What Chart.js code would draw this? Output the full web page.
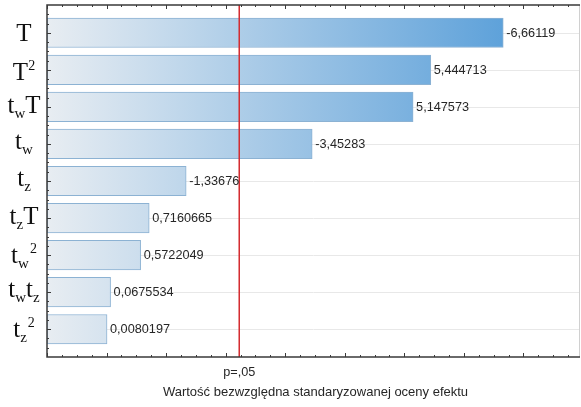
<!DOCTYPE html>
<html>
<head>
<meta charset="utf-8">
<script src="https://cdn.jsdelivr.net/npm/chart.js@4/dist/chart.umd.min.js"></script>
<style>
  html, body { margin: 0; padding: 0; background: #ffffff; }
  #wrap { width: 581px; height: 407px; }
</style>
</head>
<body>
<div id="wrap"><canvas id="pareto" width="581" height="407"></canvas></div>
<script>
// Effect terms (markup: _x = subscript char, ^x = superscript char)
const terms = ["T", "T^2", "t_wT", "t_w", "t_z", "t_zT", "t_w^2", "t_wt_z", "t_z^2"];
// Standardized effect estimates (signed)
const effects = [-6.66119, 5.444713, 5.147573, -3.45283, -1.33676, 0.7160665, 0.5722049, 0.0675534, 0.0080197];
// Critical value for p = .05
const critValue = 2.228;
const critLabel = "p=,05";
const axisTitle = "Wartość bezwzględna standaryzowanej oceny efektu";
// Axis range
const xMin = -1, xMax = 7.95;

const absEffects = effects.map(v => Math.abs(v));
const valueLabels = effects.map(v => String(v).replace(".", ","));

function parseTerm(s) {
  const parts = [];
  for (let i = 0; i < s.length; i++) {
    const c = s[i];
    if (c === "_") { parts.push([s[++i], "sub"]); }
    else if (c === "^") { parts.push([s[++i], "sup"]); }
    else parts.push([c, "b"]);
  }
  return parts;
}

const fonts = {
  b: "25px 'Liberation Serif', 'Times New Roman', serif",
  sub: "15px 'Liberation Serif', 'Times New Roman', serif",
  sup: "14px 'Liberation Serif', 'Times New Roman', serif"
};
const shifts = { b: 0, sub: 5, sup: -10 };

const decorations = {
  id: "decorations",
  beforeDatasetsDraw(chart) {
    const { ctx, chartArea: a, scales: { y } } = chart;
    ctx.save();
    ctx.strokeStyle = "#e8e8e8";
    ctx.lineWidth = 1;
    terms.forEach((_, i) => {
      const py = Math.round(y.getPixelForValue(i + 1)) + 0.5;
      ctx.beginPath(); ctx.moveTo(a.left, py); ctx.lineTo(a.right, py); ctx.stroke();
    });
    ctx.restore();
  },
  afterDatasetsDraw(chart) {
    const { ctx, chartArea: a, scales: { x, y } } = chart;
    ctx.save();

    // critical value line
    const cx = x.getPixelForValue(critValue);
    ctx.strokeStyle = "#d42a2e";
    ctx.lineWidth = 1.5;
    ctx.beginPath(); ctx.moveTo(cx, a.top); ctx.lineTo(cx, a.bottom); ctx.stroke();

    // frame
    ctx.strokeStyle = "#d0d0d0";
    ctx.lineWidth = 1;
    ctx.beginPath(); ctx.moveTo(a.right - 0.5, a.top); ctx.lineTo(a.right - 0.5, a.bottom); ctx.stroke();
    ctx.strokeStyle = "#3a3a3a";
    ctx.lineWidth = 1.5;
    ctx.beginPath();
    ctx.moveTo(a.right, a.top); ctx.lineTo(a.left, a.top);
    ctx.lineTo(a.left, a.bottom); ctx.lineTo(a.right, a.bottom);
    ctx.stroke();

    // inward ticks on x (top and bottom)
    ctx.lineWidth = 1;
    for (let v = Math.ceil(xMin * 4) / 4; v <= xMax + 1e-9; v += 0.25) {
      const px = Math.round(x.getPixelForValue(v)) + 0.5;
      const major = Math.abs(v - Math.round(v)) < 1e-6;
      const len = major ? 4 : 2;
      ctx.beginPath();
      ctx.moveTo(px, a.top); ctx.lineTo(px, a.top + len);
      ctx.moveTo(px, a.bottom); ctx.lineTo(px, a.bottom - len);
      ctx.stroke();
    }
    // inward ticks on y
    for (let v = 0.25; v <= terms.length + 0.75 + 1e-9; v += 0.25) {
      const py = Math.round(y.getPixelForValue(v)) + 0.5;
      if (py < a.top + 1 || py > a.bottom - 1) continue;
      const major = Math.abs(v - Math.round(v)) < 1e-6;
      const len = major ? 4 : 2;
      ctx.beginPath(); ctx.moveTo(a.left, py); ctx.lineTo(a.left + len, py); ctx.stroke();
    }

    // value labels
    ctx.fillStyle = "#262626";
    ctx.font = "12.7px 'Liberation Sans', Arial, sans-serif";
    ctx.textAlign = "left";
    ctx.textBaseline = "middle";
    absEffects.forEach((v, i) => {
      ctx.fillText(valueLabels[i], x.getPixelForValue(v) + 3, y.getPixelForValue(i + 1) + 0.5);
    });

    // critical value caption and axis title
    ctx.textAlign = "center";
    ctx.fillText(critLabel, cx, a.bottom + 15);
    ctx.font = "13px 'Liberation Sans', Arial, sans-serif";
    ctx.fillText(axisTitle, (a.left + a.right) / 2 + 2, 392);

    // term labels with sub/superscripts, centered at x = 24
    ctx.fillStyle = "#111111";
    ctx.textAlign = "left";
    ctx.textBaseline = "alphabetic";
    terms.forEach((t, i) => {
      const parts = parseTerm(t);
      let w = 0, top = 0, bottom = 0;
      const metrics = parts.map(([txt, role]) => {
        ctx.font = fonts[role];
        const m = ctx.measureText(txt);
        const gap = role === "sup" && parts.length > 2 ? 1 : 0;
        const item = { txt, role, x: w + gap };
        w += m.width + gap;
        top = Math.min(top, shifts[role] - m.actualBoundingBoxAscent);
        bottom = Math.max(bottom, shifts[role] + m.actualBoundingBoxDescent);
        return item;
      });
      const cy = y.getPixelForValue(i + 1);
      const base = cy - (top + bottom) / 2;
      const startX = 24 - w / 2;
      metrics.forEach(p => {
        ctx.font = fonts[p.role];
        ctx.fillText(p.txt, startX + p.x, base + shifts[p.role]);
      });
    });

    ctx.restore();
  }
};

new Chart(document.getElementById("pareto"), {
  type: "bar",
  data: {
    datasets: [{
      data: absEffects.map((v, i) => ({ x: v, y: i + 1 })),
      base: xMin,
      backgroundColor(context) {
        const { ctx, chartArea } = context.chart;
        if (!chartArea) return "#9cc5e6";
        const g = ctx.createLinearGradient(chartArea.left, 0, chartArea.right, 0);
        g.addColorStop(0, "#e8edf2");
        g.addColorStop(1, "#4795d6");
        return g;
      },
      borderColor: "#8cb2d3",
      borderWidth: 1,
      borderSkipped: false,
      barThickness: 29.5
    }]
  },
  options: {
    indexAxis: "y",
    responsive: false,
    animation: false,
    devicePixelRatio: 1,
    layout: { padding: { left: 47, top: 5, right: 1, bottom: 50 } },
    plugins: { legend: { display: false }, tooltip: { enabled: false } },
    scales: {
      x: { type: "linear", display: false, offset: false, min: xMin, max: xMax },
      y: { type: "linear", display: false, offset: false, reverse: true, min: 0.25, max: terms.length + 0.75 }
    }
  },
  plugins: [decorations]
});
</script>
</body>
</html>
